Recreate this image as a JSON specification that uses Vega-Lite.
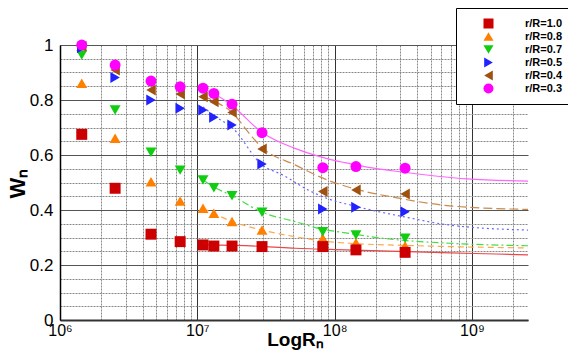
{
  "$schema": "https://vega.github.io/schema/vega-lite/v6.json",
  "width": 468,
  "height": 275,
  "autosize": {"type": "none"},
  "padding": {"left": 60, "top": 45, "right": 40, "bottom": 38},
  "background": "white",
  "config": {
    "view": {"stroke": null},
    "font": "Liberation Sans",
    "axis": {"labelFont": "Liberation Sans", "titleFont": "Liberation Sans", "labelColor": "black", "titleColor": "black"},
    "line": {"interpolate": "monotone", "strokeWidth": 1.2}
  },
  "datasets": {
    "pts": [
      {"s": "r/R=0.8", "x": 1.44e6, "w": 0.861}, {"s": "r/R=0.8", "x": 2.52e6, "w": 0.661}, {"s": "r/R=0.8", "x": 4.6e6, "w": 0.503}, {"s": "r/R=0.8", "x": 7.5e6, "w": 0.433}, {"s": "r/R=0.8", "x": 1.1e7, "w": 0.406}, {"s": "r/R=0.8", "x": 1.32e7, "w": 0.388}, {"s": "r/R=0.8", "x": 1.79e7, "w": 0.358}, {"s": "r/R=0.8", "x": 2.96e7, "w": 0.327}, {"s": "r/R=0.8", "x": 8.2e7, "w": 0.297}, {"s": "r/R=0.8", "x": 1.43e8, "w": 0.281}, {"s": "r/R=0.8", "x": 3.26e8, "w": 0.27},
      {"s": "r/R=1.0", "x": 1.44e6, "w": 0.675}, {"s": "r/R=1.0", "x": 2.52e6, "w": 0.479}, {"s": "r/R=1.0", "x": 4.6e6, "w": 0.312}, {"s": "r/R=1.0", "x": 7.5e6, "w": 0.285}, {"s": "r/R=1.0", "x": 1.1e7, "w": 0.273}, {"s": "r/R=1.0", "x": 1.32e7, "w": 0.269}, {"s": "r/R=1.0", "x": 1.79e7, "w": 0.269}, {"s": "r/R=1.0", "x": 2.96e7, "w": 0.267}, {"s": "r/R=1.0", "x": 8.2e7, "w": 0.267}, {"s": "r/R=1.0", "x": 1.43e8, "w": 0.255}, {"s": "r/R=1.0", "x": 3.26e8, "w": 0.246},
      {"s": "r/R=0.7", "x": 1.44e6, "w": 0.964}, {"s": "r/R=0.7", "x": 2.52e6, "w": 0.764}, {"s": "r/R=0.7", "x": 4.6e6, "w": 0.61}, {"s": "r/R=0.7", "x": 7.5e6, "w": 0.545}, {"s": "r/R=0.7", "x": 1.1e7, "w": 0.509}, {"s": "r/R=0.7", "x": 1.32e7, "w": 0.481}, {"s": "r/R=0.7", "x": 1.79e7, "w": 0.452}, {"s": "r/R=0.7", "x": 2.96e7, "w": 0.392}, {"s": "r/R=0.7", "x": 8.2e7, "w": 0.321}, {"s": "r/R=0.7", "x": 1.43e8, "w": 0.309}, {"s": "r/R=0.7", "x": 3.26e8, "w": 0.297},
      {"s": "r/R=0.5", "x": 1.44e6, "w": 0.99}, {"s": "r/R=0.5", "x": 2.52e6, "w": 0.882}, {"s": "r/R=0.5", "x": 4.6e6, "w": 0.8}, {"s": "r/R=0.5", "x": 7.5e6, "w": 0.77}, {"s": "r/R=0.5", "x": 1.1e7, "w": 0.764}, {"s": "r/R=0.5", "x": 1.32e7, "w": 0.737}, {"s": "r/R=0.5", "x": 1.79e7, "w": 0.709}, {"s": "r/R=0.5", "x": 2.96e7, "w": 0.567}, {"s": "r/R=0.5", "x": 8.2e7, "w": 0.404}, {"s": "r/R=0.5", "x": 1.43e8, "w": 0.41}, {"s": "r/R=0.5", "x": 3.26e8, "w": 0.394},
      {"s": "r/R=0.4", "x": 1.44e6, "w": 0.995}, {"s": "r/R=0.4", "x": 2.52e6, "w": 0.909}, {"s": "r/R=0.4", "x": 4.6e6, "w": 0.836}, {"s": "r/R=0.4", "x": 7.5e6, "w": 0.822}, {"s": "r/R=0.4", "x": 1.1e7, "w": 0.812}, {"s": "r/R=0.4", "x": 1.32e7, "w": 0.794}, {"s": "r/R=0.4", "x": 1.79e7, "w": 0.755}, {"s": "r/R=0.4", "x": 2.96e7, "w": 0.622}, {"s": "r/R=0.4", "x": 8.2e7, "w": 0.467}, {"s": "r/R=0.4", "x": 1.43e8, "w": 0.473}, {"s": "r/R=0.4", "x": 3.26e8, "w": 0.458},
      {"s": "r/R=0.3", "x": 1.44e6, "w": 1.0}, {"s": "r/R=0.3", "x": 2.52e6, "w": 0.927}, {"s": "r/R=0.3", "x": 4.6e6, "w": 0.869}, {"s": "r/R=0.3", "x": 7.5e6, "w": 0.848}, {"s": "r/R=0.3", "x": 1.1e7, "w": 0.843}, {"s": "r/R=0.3", "x": 1.32e7, "w": 0.824}, {"s": "r/R=0.3", "x": 1.79e7, "w": 0.785}, {"s": "r/R=0.3", "x": 2.96e7, "w": 0.681}, {"s": "r/R=0.3", "x": 8.2e7, "w": 0.554}, {"s": "r/R=0.3", "x": 1.43e8, "w": 0.558}, {"s": "r/R=0.3", "x": 3.26e8, "w": 0.552}
    ],
    "fits": [
      {"s": "r/R=0.3", "x": 1.1e7, "w": 0.84}, {"s": "r/R=0.3", "x": 1.35e7, "w": 0.82}, {"s": "r/R=0.3", "x": 1.79e7, "w": 0.78}, {"s": "r/R=0.3", "x": 2.96e7, "w": 0.682}, {"s": "r/R=0.3", "x": 5.15e7, "w": 0.624}, {"s": "r/R=0.3", "x": 8.96e7, "w": 0.586}, {"s": "r/R=0.3", "x": 1.19e8, "w": 0.572}, {"s": "r/R=0.3", "x": 1.72e8, "w": 0.556}, {"s": "r/R=0.3", "x": 3.0e8, "w": 0.539}, {"s": "r/R=0.3", "x": 9.2e8, "w": 0.513}, {"s": "r/R=0.3", "x": 2.56e9, "w": 0.505},
      {"s": "r/R=0.4", "x": 1.1e7, "w": 0.815}, {"s": "r/R=0.4", "x": 1.35e7, "w": 0.794}, {"s": "r/R=0.4", "x": 1.79e7, "w": 0.755}, {"s": "r/R=0.4", "x": 2.42e7, "w": 0.675}, {"s": "r/R=0.4", "x": 2.96e7, "w": 0.627}, {"s": "r/R=0.4", "x": 5.15e7, "w": 0.564}, {"s": "r/R=0.4", "x": 8.96e7, "w": 0.508}, {"s": "r/R=0.4", "x": 1.29e8, "w": 0.482}, {"s": "r/R=0.4", "x": 3.0e8, "w": 0.442}, {"s": "r/R=0.4", "x": 6.9e8, "w": 0.415}, {"s": "r/R=0.4", "x": 2.56e9, "w": 0.402},
      {"s": "r/R=0.5", "x": 1.1e7, "w": 0.775}, {"s": "r/R=0.5", "x": 1.35e7, "w": 0.74}, {"s": "r/R=0.5", "x": 1.79e7, "w": 0.7}, {"s": "r/R=0.5", "x": 2.96e7, "w": 0.564}, {"s": "r/R=0.5", "x": 4.21e7, "w": 0.527}, {"s": "r/R=0.5", "x": 6.4e7, "w": 0.473}, {"s": "r/R=0.5", "x": 8.2e7, "w": 0.448}, {"s": "r/R=0.5", "x": 1.46e8, "w": 0.412}, {"s": "r/R=0.5", "x": 3.15e8, "w": 0.376}, {"s": "r/R=0.5", "x": 6.9e8, "w": 0.345}, {"s": "r/R=0.5", "x": 2.56e9, "w": 0.327},
      {"s": "r/R=0.7", "x": 1.1e7, "w": 0.509}, {"s": "r/R=0.7", "x": 1.35e7, "w": 0.481}, {"s": "r/R=0.7", "x": 1.79e7, "w": 0.452}, {"s": "r/R=0.7", "x": 2.96e7, "w": 0.392}, {"s": "r/R=0.7", "x": 5.15e7, "w": 0.358}, {"s": "r/R=0.7", "x": 8.1e7, "w": 0.33}, {"s": "r/R=0.7", "x": 1.13e8, "w": 0.319}, {"s": "r/R=0.7", "x": 2.25e8, "w": 0.297}, {"s": "r/R=0.7", "x": 6.9e8, "w": 0.279}, {"s": "r/R=0.7", "x": 2.56e9, "w": 0.27},
      {"s": "r/R=0.8", "x": 1.1e7, "w": 0.406}, {"s": "r/R=0.8", "x": 1.35e7, "w": 0.385}, {"s": "r/R=0.8", "x": 1.79e7, "w": 0.358}, {"s": "r/R=0.8", "x": 2.96e7, "w": 0.327}, {"s": "r/R=0.8", "x": 5.15e7, "w": 0.303}, {"s": "r/R=0.8", "x": 8.96e7, "w": 0.285}, {"s": "r/R=0.8", "x": 1.29e8, "w": 0.279}, {"s": "r/R=0.8", "x": 3.98e8, "w": 0.27}, {"s": "r/R=0.8", "x": 2.56e9, "w": 0.262},
      {"s": "r/R=1.0", "x": 1.1e7, "w": 0.273}, {"s": "r/R=1.0", "x": 2.96e7, "w": 0.268}, {"s": "r/R=1.0", "x": 5.15e7, "w": 0.261}, {"s": "r/R=1.0", "x": 1.2e8, "w": 0.255}, {"s": "r/R=1.0", "x": 7.0e8, "w": 0.244}, {"s": "r/R=1.0", "x": 1.5e9, "w": 0.24}, {"s": "r/R=1.0", "x": 2.56e9, "w": 0.237}
    ]
  },
  "encoding": {
    "x": {
      "field": "x", "type": "quantitative",
      "scale": {"type": "log", "domain": [1000000, 2560000000], "nice": false},
      "axis": {
        "title": "LogRₙ", "titleFontSize": 19, "titleFontWeight": "bold", "titleX": 235, "titleY": 10, "titleBaseline": "top",
        "values": [1000000, 2000000, 3000000, 4000000, 5000000, 6000000, 7000000, 8000000, 9000000, 10000000, 20000000, 30000000, 40000000, 50000000, 60000000, 70000000, 80000000, 90000000, 100000000, 200000000, 300000000, 400000000, 500000000, 600000000, 700000000, 800000000, 900000000, 1000000000, 2000000000],
        "labelExpr": "datum.value == 1000000 ? '10⁶' : datum.value == 10000000 ? '10⁷' : datum.value == 100000000 ? '10⁸' : datum.value == 1000000000 ? '10⁹' : ''",
        "labelFontSize": 16, "labelPadding": 2, "labelFlush": false, "labelOverlap": false, "labelDx": 3,
        "ticks": false, "domainColor": "#333333", "domainWidth": 2,
        "grid": true,
        "gridColor": {"condition": {"test": "indexof([1000000, 10000000, 100000000, 1000000000], datum.value) >= 0", "value": "#333333"}, "value": "#888888"},
        "gridDash": {"condition": {"test": "indexof([1000000, 10000000, 100000000, 1000000000], datum.value) >= 0", "value": []}, "value": [2, 1]},
        "gridWidth": 1, "gridOpacity": 1
      }
    },
    "y": {
      "field": "w", "type": "quantitative",
      "scale": {"domain": [0, 1], "nice": false, "zero": false},
      "axis": {
        "title": "Wₙ", "titleFontSize": 22, "titleFontWeight": "bold", "titleX": -31, "titleY": 138, "titleAngle": -90, "titleBaseline": "bottom",
        "values": [0, 0.05, 0.1, 0.15, 0.2, 0.25, 0.3, 0.35, 0.4, 0.45, 0.5, 0.55, 0.6, 0.65, 0.7, 0.75, 0.8, 0.85, 0.9, 0.95, 1],
        "labelExpr": "indexof([0, 0.2, 0.4, 0.6, 0.8, 1], datum.value) >= 0 ? format(datum.value, '~g') : ''",
        "labelFontSize": 17, "labelPadding": 7, "labelOverlap": false,
        "ticks": false, "domainColor": "black", "domainWidth": 1.5,
        "grid": true,
        "gridColor": {"condition": {"test": "indexof([0, 0.2, 0.4, 0.6, 0.8, 1], datum.value) >= 0", "value": "#555555"}, "value": "#888888"},
        "gridDash": {"condition": {"test": "indexof([0, 0.2, 0.4, 0.6, 0.8, 1], datum.value) >= 0", "value": []}, "value": [2, 1]},
        "gridWidth": 1, "gridOpacity": 1
      }
    }
  },
  "layer": [
    {"data": {"name": "fits"}, "transform": [{"filter": "datum.s == 'r/R=1.0'"}], "mark": {"type": "line", "color": "#e84848"}},
    {"data": {"name": "fits"}, "transform": [{"filter": "datum.s == 'r/R=0.8'"}], "mark": {"type": "line", "color": "#ffa850", "strokeDash": [6, 4]}},
    {"data": {"name": "fits"}, "transform": [{"filter": "datum.s == 'r/R=0.7'"}], "mark": {"type": "line", "color": "#44dd44", "strokeDash": [7, 3, 2, 3]}},
    {"data": {"name": "fits"}, "transform": [{"filter": "datum.s == 'r/R=0.5'"}], "mark": {"type": "line", "color": "#6666ff", "strokeDash": [2, 3]}},
    {"data": {"name": "fits"}, "transform": [{"filter": "datum.s == 'r/R=0.4'"}], "mark": {"type": "line", "color": "#c88a4e", "strokeDash": [9, 4]}},
    {"data": {"name": "fits"}, "transform": [{"filter": "datum.s == 'r/R=0.3'"}], "mark": {"type": "line", "color": "#ff66ff"}},
    {
      "data": {"name": "pts"},
      "mark": {"type": "point", "filled": true, "opacity": 1, "size": 120},
      "encoding": {
        "color": {"field": "s", "type": "nominal",
          "scale": {"domain": ["r/R=1.0", "r/R=0.8", "r/R=0.7", "r/R=0.5", "r/R=0.4", "r/R=0.3"], "range": ["#cc0000", "#ff8000", "#11cc11", "#2222ff", "#a0500f", "#ff00ff"]},
          "legend": {"title": null, "orient": "none", "legendX": 396, "legendY": -37, "padding": 10, "symbolOffset": 17, "labelOffset": 31, "rowPadding": 1,
            "symbolSize": 100, "labelFont": "Liberation Sans", "labelFontSize": 11, "labelFontWeight": "bold", "labelColor": "black",
            "strokeColor": "black", "fillColor": "white", "symbolStrokeWidth": 0}},
        "shape": {"field": "s", "type": "nominal",
          "scale": {"domain": ["r/R=1.0", "r/R=0.8", "r/R=0.7", "r/R=0.5", "r/R=0.4", "r/R=0.3"], "range": ["square", "triangle-up", "triangle-down", "triangle-right", "triangle-left", "circle"]}}
      }
    }
  ]
}
